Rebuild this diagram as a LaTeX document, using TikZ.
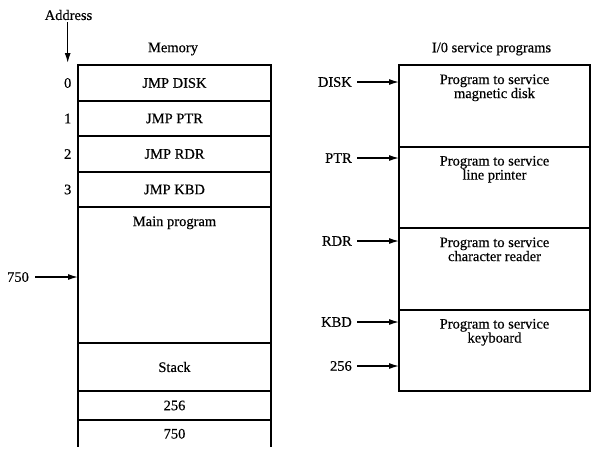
\documentclass[tikz,border=0pt]{standalone}
\usepackage{fontspec}
\setmainfont{Liberation Serif}[FakeBold=0.4, AutoFakeBold=0.4]
\usepackage{tikz}
\usetikzlibrary{arrows.meta, positioning}
\tikzset{
  cell/.style={rectangle, draw=black, line width=1.8pt, outer sep=0pt, minimum width=193pt, inner sep=0pt},
  iobox/.style={rectangle, draw=black, line width=1.8pt, outer sep=0pt, minimum width=191pt, minimum height=81.5pt, inner sep=0pt},
  lbl/.style={font=\fontsize{14.5}{17}\selectfont\bfseries, inner sep=2pt},
  arrow/.style={-{Latex[length=10pt, width=6pt]}, line width=1.3pt}
}
\begin{document}
\begin{tikzpicture}[x=1pt, y=-1pt, node distance=0pt]
  \useasboundingbox (0,0) rectangle (591,448);
  % memory column
  \node[cell, minimum height=35.5pt, lbl, inner sep=0pt] (m0) at (174.5,83) {JMP DISK};
  \node[cell, minimum height=35.5pt, lbl, inner sep=0pt, below=of m0] (m1) {JMP PTR};
  \node[cell, minimum height=35.5pt, lbl, inner sep=0pt, below=of m1] (m2) {JMP RDR};
  \node[cell, minimum height=35.5pt, lbl, inner sep=0pt, below=of m2] (m3) {JMP KBD};
  \node[cell, minimum height=136pt, below=of m3] (main) {};
  \node[cell, minimum height=47.5pt, lbl, inner sep=0pt, below=of main] (stack) {Stack};
  \node[cell, minimum height=29.5pt, lbl, inner sep=0pt, below=of stack] (s256) {256};
  \node[cell, draw=none, minimum height=27pt, lbl, inner sep=0pt, below=of s256] (s750) {750};
  \draw[line width=1.8pt] (s750.north west) -- (s750.south west) (s750.north east) -- (s750.south east);
  \node[lbl, below=7pt of main.north] (maintxt) {Main program};
  \node[lbl] (memtitle) at (173,49) {Memory};
  % addresses
  \node[lbl] (addr) at (68.5,15) {Address};
  \coordinate (aend) at (67.7,63);
  \draw[arrow] (addr.south -| aend) -- (aend);
  \foreach \i in {0,...,3}
    \node[lbl] (a\i) at (m\i -| aend) {\i};
  \node[lbl] (a750) at (18,277) {750};
  \draw[arrow] (a750.east) ++(4pt,0) -- (a750 -| main.west);
  % I/O service programs
  \node[iobox] (disk) at (494.5,106) {};
  \node[iobox, below=of disk] (ptr) {};
  \node[iobox, below=of ptr] (rdr) {};
  \node[iobox, below=of rdr] (kbd) {};
  \node[lbl] (iotitle) at (491.5,49) {I/0 service programs};
  \node[lbl, align=center, below=7pt of disk.north] (tdisk) {Program to service\\[-3pt]magnetic disk};
  \node[lbl, align=center, below=7pt of ptr.north] (tptr) {Program to service\\[-3pt]line printer};
  \node[lbl, align=center, below=7pt of rdr.north] (trdr) {Program to service\\[-3pt]character reader};
  \node[lbl, align=center, below=7pt of kbd.north] (tkbd) {Program to service\\[-3pt]keyboard};
  \node[lbl, anchor=east] (ldisk) at (354,82) {DISK};
  \node[lbl, anchor=east] (lptr) at (354,158) {PTR};
  \node[lbl, anchor=east] (lrdr) at (354,241) {RDR};
  \node[lbl, anchor=east] (lkbd) at (354,322) {KBD};
  \node[lbl, anchor=east] (l256) at (354,366) {256};
  \foreach \n in {ldisk, lptr, lrdr, lkbd, l256}
    \draw[arrow] (\n.east) ++(3pt,0) -- (\n -| disk.west);
\end{tikzpicture}
\end{document}
